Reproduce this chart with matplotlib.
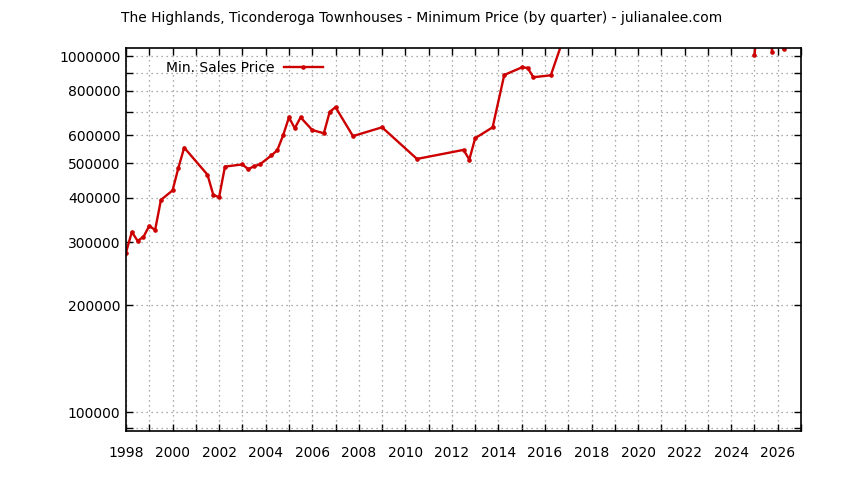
import numpy as np
import matplotlib
matplotlib.use('Agg')
import matplotlib.pyplot as plt
from matplotlib.ticker import FixedLocator, NullFormatter, NullLocator

# quarterly minimum sale prices (values above ~1.05M fall outside the plotted range)
quarters = [1998.0, 1998.25, 1998.5, 1998.75, 1999.0, 1999.25, 1999.5,
            2000.0, 2000.25, 2000.5, 2001.5, 2001.75, 2002.0, 2002.25,
            2003.0, 2003.25, 2003.5, 2003.75, 2004.25, 2004.5, 2004.75,
            2005.0, 2005.25, 2005.5, 2006.0, 2006.5, 2006.75, 2007.0,
            2007.75, 2009.0, 2010.5, 2012.5, 2012.75, 2013.0, 2013.75,
            2014.25, 2015.0, 2015.25, 2015.5, 2016.25,
            2017.0, 2018.0, 2019.0, 2020.0, 2021.0, 2022.0, 2023.0, 2024.0,
            2024.5, 2025.0, 2025.25, 2025.5, 2025.75, 2026.0, 2026.25]
min_price = [281000, 321000, 303000, 311000, 334000, 325000, 395000,
             420000, 486000, 554000, 465000, 408000, 402000, 490000,
             497000, 482000, 491000, 497000, 527000, 545000, 600000,
             674000, 628000, 674000, 621000, 608000, 698000, 720000,
             597000, 632000, 515000, 546000, 513000, 589000, 632000,
             887000, 931000, 929000, 874000, 885000,
             1230000, 1300000, 1250000, 1350000, 1500000, 1600000, 1550000, 1450000,
             np.nan, 1010000, 1480000, 3000000, 1032000, 1600000, 1050000]

y_labeled = [100000, 200000, 300000, 400000, 500000, 600000, 800000, 1000000]
y_unlabeled = [90000, 700000, 900000]
x_ticks = list(range(1998, 2028))
x_labels = [str(y) if y % 2 == 0 else '' for y in x_ticks]

plt.rcParams['font.family'] = ['DejaVu Sans']

fig = plt.figure(figsize=(8.44, 4.8), dpi=100)
ax = fig.add_axes([0.1493, 0.1021, 0.9491 - 0.1493, 0.9 - 0.1021])

ax.plot(quarters, min_price, '-', color='#cc0000', linewidth=1.7,
        marker='o', markersize=2.3, label='Min. Sales Price')

ax.set_yscale('log')
ax.set_xlim(1998, 2027)
ax.set_ylim(88500, 1056000)

ax.yaxis.set_major_locator(FixedLocator(y_labeled + y_unlabeled))
ax.set_yticklabels([str(v) for v in y_labeled] + [''] * len(y_unlabeled))
ax.yaxis.set_minor_locator(NullLocator())
ax.yaxis.set_minor_formatter(NullFormatter())
ax.set_xticks(x_ticks)
ax.set_xticklabels(x_labels)

ax.tick_params(axis='both', direction='in', length=5, width=1,
               top=True, right=True, labelsize=10, pad=11)
ax.tick_params(axis='y', pad=4)

ax.grid(True, which='major', color='#909090', linestyle=(0, (1, 3)), linewidth=0.9)

for s in ax.spines.values():
    s.set_linewidth(1.2)

ax.legend(loc='upper left', bbox_to_anchor=(0.04, 1.0), frameon=False,
          markerfirst=False, fontsize=10, handlelength=2.8, handletextpad=0.7)

fig.text(0.5, 0.962, 'The Highlands, Ticonderoga Townhouses - Minimum Price (by quarter) - julianalee.com',
         ha='center', va='center', fontsize=10)

fig.savefig('out.png', dpi=100)
